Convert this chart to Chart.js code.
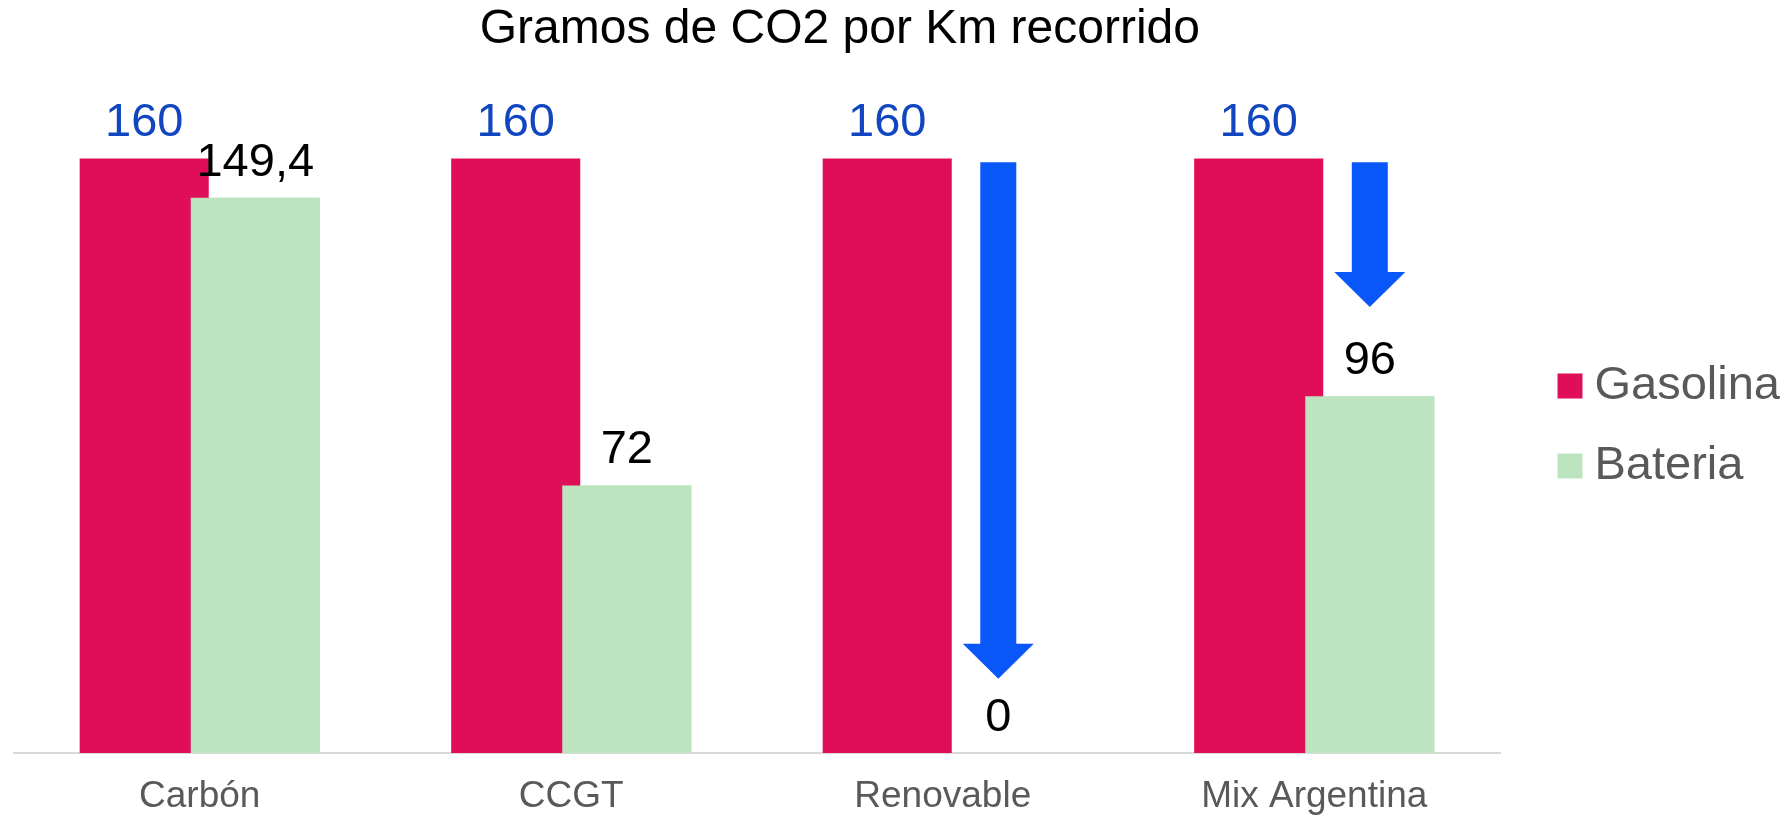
<!DOCTYPE html>
<html>
<head>
<meta charset="utf-8">
<title>Gramos de CO2 por Km recorrido</title>
<script src="https://cdn.jsdelivr.net/npm/chart.js@4/dist/chart.umd.min.js"></script>
<style>
  html, body { margin: 0; padding: 0; background: #ffffff; }
  #wrap { width: 1787px; height: 817px; position: relative; }
</style>
</head>
<body>
<div id="wrap"><canvas id="co2Chart"></canvas></div>
<script>
// Data
const categories = ['Carbón', 'CCGT', 'Renovable', 'Mix Argentina'];
const gasolina = [160, 160, 160, 160];
const bateria = [149.4, 72, 0, 96];

// Arrows over the Bateria slot (values on the y scale: start -> tip)
const arrowFrom = [null, null, 159, 159];
const arrowTo = [null, null, 20, 120];

const chartTitle = 'Gramos de CO2 por Km recorrido';
const FONT = '"Liberation Sans", Arial, Helvetica, sans-serif';

const colors = {
    gasolina: '#e00e58',
    bateria: '#bce5bf',
    arrow: '#0a57f9',
    gasolinaLabel: '#1046c0',
    bateriaLabel: '#000000',
    axisText: '#595959',
    axisLine: '#d9d9d9'
};

// Value labels, arrows, and Bateria bars drawn over Gasolina
const overlayPlugin = {
    id: 'overlay',
    afterDatasetsDraw(chart) {
        const ctx = chart.ctx;
        const yScale = chart.scales.y;
        const batMeta = chart.getDatasetMeta(1);

        // Bateria bars overlap the Gasolina bars, so draw them again on top
        batMeta.controller.draw();

        // Arrows
        ctx.save();
        ctx.fillStyle = colors.arrow;
        arrowFrom.forEach((from, i) => {
            if (from === null) return;
            const x = batMeta.data[i].x;
            const top = yScale.getPixelForValue(from);
            const tip = yScale.getPixelForValue(arrowTo[i]);
            const headLen = 35, shaftHalf = 18, headHalf = 35.5;
            ctx.beginPath();
            ctx.moveTo(x - shaftHalf, top);
            ctx.lineTo(x + shaftHalf, top);
            ctx.lineTo(x + shaftHalf, tip - headLen);
            ctx.lineTo(x + headHalf, tip - headLen);
            ctx.lineTo(x, tip);
            ctx.lineTo(x - headHalf, tip - headLen);
            ctx.lineTo(x - shaftHalf, tip - headLen);
            ctx.closePath();
            ctx.fill();
        });

        // Value labels
        ctx.font = '47px ' + FONT;
        ctx.textAlign = 'center';
        ctx.textBaseline = 'alphabetic';
        const labelColors = [colors.gasolinaLabel, colors.bateriaLabel];
        chart.data.datasets.forEach((ds, di) => {
            const meta = chart.getDatasetMeta(di);
            ctx.fillStyle = labelColors[di];
            meta.data.forEach((bar, i) => {
                const text = String(ds.data[i]).replace('.', ',');
                ctx.fillText(text, bar.x, bar.y - 22);
            });
        });
        ctx.restore();
    },
    afterDraw(chart) {
        // Title
        const ctx = chart.ctx;
        ctx.save();
        ctx.font = '48px ' + FONT;
        ctx.fillStyle = '#000000';
        ctx.textAlign = 'center';
        ctx.textBaseline = 'alphabetic';
        ctx.fillText(chartTitle, chart.width * 0.47, 43);
        ctx.restore();
    }
};

const ctx = document.getElementById('co2Chart').getContext('2d');
const myChart = new Chart(ctx, {
    type: 'bar',
    data: {
        labels: categories,
        datasets: [
            {
                label: 'Gasolina',
                data: gasolina,
                backgroundColor: colors.gasolina,
                borderWidth: 0
            },
            {
                label: 'Bateria',
                data: bateria,
                backgroundColor: colors.bateria,
                borderWidth: 0
            }
        ]
    },
    options: {
        responsive: true,
        maintainAspectRatio: false,
        animation: false,
        categoryPercentage: 0.598,
        barPercentage: 1.162,
        layout: {
            padding: { top: 99, left: 14, right: -3, bottom: 0 }
        },
        plugins: {
            title: { display: false },
            tooltip: { enabled: false },
            legend: {
                position: 'right',
                fullSize: false,
                labels: {
                    usePointStyle: true,
                    pointStyle: 'rect',
                    boxWidth: 2,
                    boxHeight: 25,
                    padding: 33,
                    color: colors.axisText,
                    font: { family: FONT, size: 47 }
                }
            }
        },
        scales: {
            x: {
                grid: { display: false, drawTicks: false },
                border: { display: true, color: colors.axisLine, width: 2 },
                ticks: {
                    color: colors.axisText,
                    font: { family: FONT, size: 37 },
                    padding: 22
                },
                afterFit: (scale) => { scale.height = 64; }
            },
            y: {
                position: 'right',
                min: 0,
                max: 176,
                grid: { display: false, drawTicks: false },
                border: { display: false },
                ticks: { display: false },
                afterFit: (scale) => { scale.width = 36; }
            }
        }
    },
    plugins: [overlayPlugin]
});
</script>
</body>
</html>
